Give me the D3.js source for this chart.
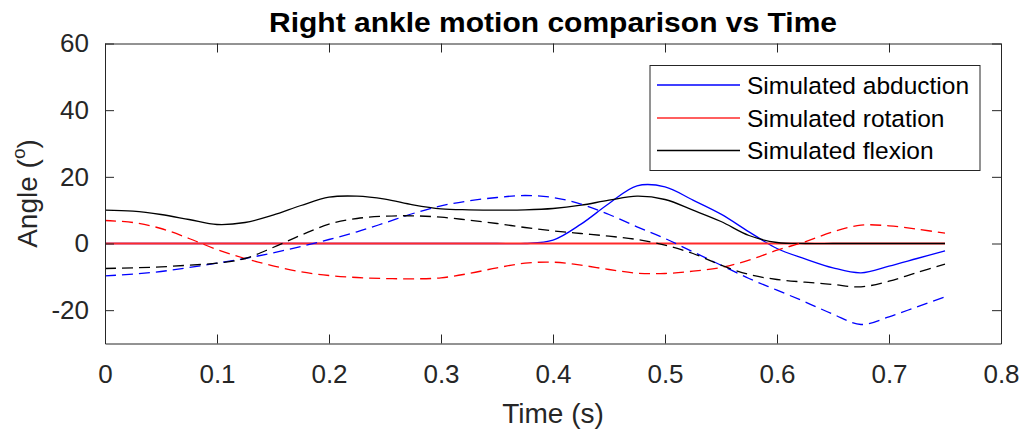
<!DOCTYPE html>
<html>
<head>
<meta charset="utf-8">
<script src="https://cdn.jsdelivr.net/npm/d3@7"></script>
<style>
  html, body { margin: 0; padding: 0; background: #ffffff; }
  svg { display: block; font-family: "Liberation Sans", Arial, Helvetica, sans-serif; }
</style>
</head>
<body>
<svg id="chart" width="1026" height="432"></svg>
<script>
// Time samples (s) shared by every series
const time = [0, 0.025, 0.05, 0.075, 0.1, 0.125, 0.15, 0.175, 0.2, 0.225, 0.25, 0.275, 0.3,
  0.325, 0.35, 0.375, 0.4, 0.425, 0.45, 0.475, 0.5, 0.525, 0.55, 0.575, 0.6, 0.625,
  0.65, 0.675, 0.7, 0.725, 0.75];

// Simulated angles (deg)
const simAbduction = [0, 0, 0, 0, 0, 0, 0, 0, 0, 0, 0, 0, 0, 0, 0, 0, 1.0, 5.8, 12, 17.3, 17.0,
  13, 8.8, 3.5, -1.5, -4.6, -7.3, -8.8, -6.8, -4.5, -2.2];
const simRotation = [0, 0, 0, 0, 0, 0, 0, 0, 0, 0, 0, 0, 0, 0, 0, 0, 0, 0, 0, 0, 0,
  0, 0, 0, 0, 0, 0, 0, 0, 0, 0];
const simFlexion = [10, 9.7, 8.7, 7.2, 5.7, 6.3, 8.5, 11.4, 13.9, 14.2, 13.3, 11.6, 10.4,
  10.1, 10.0, 10.1, 10.5, 11.5, 13.0, 14.2, 13.2, 10.0, 6.6, 2.4, 0.3, 0, 0, 0, 0, 0, 0];

// Measured angles (deg), drawn dashed
const measAbduction = [-9.7, -9.2, -8.4, -7.2, -5.9, -4.5, -2.8, -0.9, 1.2, 3.5, 6.2, 9.0, 11.3,
  12.8, 13.8, 14.4, 13.8, 11.8, 8.7, 5.0, 1.5, -2.5, -6.5, -10.5, -14, -17.5, -21.2,
  -24.3, -22, -19, -16];
const measRotation = [6.9, 6.3, 4.5, 1.5, -1.8, -4.5, -6.7, -8.5, -9.6, -10.2, -10.5, -10.6, -10.3,
  -9.0, -7.3, -5.9, -5.6, -6.5, -7.8, -8.9, -9.0, -8.3, -7.2, -5.0, -2.0, 0.5, 3.5,
  5.5, 5.3, 4.3, 3.1];
const measFlexion = [-7.5, -7.3, -7.0, -6.5, -5.9, -4.5, -1.2, 2.5, 5.8, 7.5, 8.2, 8.3, 7.9,
  7.0, 6.0, 4.8, 3.8, 3.0, 2.2, 1.2, -0.5, -3.0, -6.5, -9.3, -10.8, -11.6, -12.3,
  -13.0, -11.3, -8.7, -6.2];

// Axis ticks and labels
const xTicks = [0, 0.1, 0.2, 0.3, 0.4, 0.5, 0.6, 0.7, 0.8];
const yTicks = [-20, 0, 20, 40, 60];
const titleText = "Right ankle motion comparison vs Time";
const xLabelText = "Time (s)";
const legendLabels = ["Simulated abduction", "Simulated rotation", "Simulated flexion"];

const series = [
  { values: simAbduction, color: "#0000ff", dashed: false, width: 1.3 },
  { values: simRotation, color: "#ff2a2a", dashed: false, width: 1.8 },
  { values: simFlexion, color: "#000000", dashed: false, width: 1.3 },
  { values: measAbduction, color: "#0000ff", dashed: true, width: 1.3 },
  { values: measRotation, color: "#ff0000", dashed: true, width: 1.3 },
  { values: measFlexion, color: "#000000", dashed: true, width: 1.3 }
];

const svg = d3.select("#chart");
const m = { left: 105, right: 1001, top: 43.5, bottom: 343.5 };
const axisColor = "#262626";

const x = d3.scaleLinear().domain([0, 0.8]).range([m.left, m.right]);
const y = d3.scaleLinear().domain([-30, 60]).range([m.bottom, m.top]);

// Plot lines
const line = d3.line()
  .x((d, i) => x(time[i]))
  .y(d => y(d))
  .curve(d3.curveCatmullRom.alpha(0.5));

const plot = svg.append("g");
series.forEach(s => {
  plot.append("path")
    .attr("d", line(s.values))
    .attr("fill", "none")
    .attr("stroke", s.color)
    .attr("stroke-width", s.width)
    .attr("stroke-dasharray", s.dashed ? "11,6" : null);
});

// Axes box with inward ticks on all four sides
const tickLen = 9;
const fmt = d => String(d);

const xAxisB = d3.axisBottom(x).tickValues(xTicks).tickSizeInner(-tickLen).tickSizeOuter(0)
  .tickPadding(tickLen + 12).tickFormat(fmt);
const xAxisT = d3.axisTop(x).tickValues(xTicks).tickSizeInner(-tickLen).tickSizeOuter(0).tickFormat("");
const yAxisL = d3.axisLeft(y).tickValues(yTicks).tickSizeInner(-tickLen).tickSizeOuter(0)
  .tickPadding(tickLen + 7).tickFormat(fmt);
const yAxisR = d3.axisRight(y).tickValues(yTicks).tickSizeInner(-tickLen).tickSizeOuter(0).tickFormat("");

function styleAxis(g) {
  g.selectAll("path.domain").attr("stroke", axisColor).attr("stroke-width", 1);
  g.selectAll(".tick line").attr("stroke", axisColor).attr("stroke-width", 1);
  g.selectAll(".tick text").attr("fill", axisColor).attr("font-size", 26)
    .attr("font-family", "Liberation Sans, Arial, sans-serif");
}

svg.append("g").attr("transform", `translate(0,${m.bottom})`).call(xAxisB).call(styleAxis);
svg.append("g").attr("transform", `translate(0,${m.top})`).call(xAxisT).call(styleAxis);
svg.append("g").attr("transform", `translate(${m.left},0)`).call(yAxisL).call(styleAxis);
svg.append("g").attr("transform", `translate(${m.right},0)`).call(yAxisR).call(styleAxis);

// Title
svg.append("text")
  .attr("x", (m.left + m.right) / 2)
  .attr("y", 32)
  .attr("text-anchor", "middle")
  .attr("font-size", 28)
  .attr("font-weight", "bold")
  .attr("fill", "#000")
  .attr("textLength", 568)
  .attr("lengthAdjust", "spacingAndGlyphs")
  .text(titleText);

// X label
svg.append("text")
  .attr("x", (m.left + m.right) / 2)
  .attr("y", 423)
  .attr("text-anchor", "middle")
  .attr("font-size", 28)
  .attr("fill", axisColor)
  .text(xLabelText);

// Y label with superscript degree marker
const yl = svg.append("text")
  .attr("transform", `translate(37,${(m.top + m.bottom) / 2}) rotate(-90)`)
  .attr("text-anchor", "middle")
  .attr("font-size", 28)
  .attr("fill", axisColor);
yl.append("tspan").text("Angle (");
yl.append("tspan").attr("font-size", 19).attr("dy", -12).text("o");
yl.append("tspan").attr("dy", 12).text(")");

// Legend
const lg = svg.append("g");
lg.append("rect")
  .attr("x", 650).attr("y", 65.5).attr("width", 330).attr("height", 105)
  .attr("fill", "#ffffff").attr("stroke", axisColor).attr("stroke-width", 1);
const rowY = [85, 118, 150.5];
legendLabels.forEach((lab, i) => {
  lg.append("line")
    .attr("x1", 657).attr("x2", 740).attr("y1", rowY[i]).attr("y2", rowY[i])
    .attr("stroke", series[i].color).attr("stroke-width", 1.3);
  lg.append("text")
    .attr("x", 747).attr("y", rowY[i])
    .attr("dy", "0.35em")
    .attr("font-size", 24.5)
    .attr("fill", "#000")
    .text(lab);
});
</script>
</body>
</html>
